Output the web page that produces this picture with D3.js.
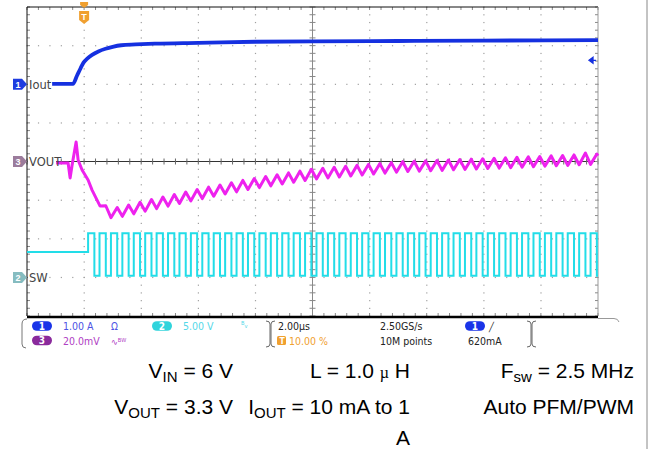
<!DOCTYPE html>
<html><head><meta charset="utf-8">
<script src="https://cdn.jsdelivr.net/npm/d3@7"></script>
<style>body{margin:0;background:#fff}svg{display:block}</style>
</head><body><svg id="c" width="649" height="449"></svg>
<script>
// ---------- data ----------
const timeDomain = [-2, 18];          // µs, 2.00 µs/div, trigger at 10 %
const divDomain = [-4, 4];            // vertical divisions
const ch1 = {scale: 1.0, offset: 2};  // Iout, A/div
const ch2 = {scale: 5.0, offset: -3}; // SW, V/div
const ch3 = {scale: 20.0, offset: 0}; // VOUT (AC), mV/div
const trigLevel = 0.62;               // A

// Ch1 Iout (A)
const iT = [-1.12, -0.39, -0.25, -0.12, -0.02, 0.12, 0.28, 0.5, 0.75, 1.0, 1.3, 1.8, 2.5, 4.0, 6.0, 8.0, 11.0, 14.0, 18.0];
const iA = [0.01, 0.01, 0.22, 0.42, 0.56, 0.67, 0.76, 0.85, 0.92, 0.97, 1.01, 1.03, 1.05, 1.07, 1.1, 1.11, 1.12, 1.13, 1.14];

// Ch3 VOUT deviation (mV)
const vT = [-0.98, -0.56, -0.49, -0.42, -0.28, -0.21, -0.07, 0.14, 0.28, 0.45, 0.56, 0.76,
  0.94, 1.16, 1.34, 1.56, 1.74, 1.96, 2.14, 2.36, 2.54, 2.76, 2.94, 3.16, 3.34, 3.56, 3.74, 3.96,
  4.14, 4.36, 4.54, 4.76, 4.94, 5.16, 5.34, 5.56, 5.74, 5.96, 6.14, 6.36, 6.54, 6.76, 6.94, 7.16,
  7.34, 7.56, 7.74, 7.96, 8.14, 8.36, 8.54, 8.76, 8.94, 9.16, 9.34, 9.56, 9.74, 9.96, 10.14, 10.36,
  10.54, 10.76, 10.94, 11.16, 11.34, 11.56, 11.74, 11.96, 12.14, 12.36, 12.54, 12.76, 12.94, 13.16,
  13.34, 13.56, 13.74, 13.96, 14.14, 14.36, 14.54, 14.76, 14.94, 15.16, 15.34, 15.56, 15.74, 15.96,
  16.14, 16.36, 16.54, 16.76, 16.94, 17.16, 17.34, 17.56, 17.74, 17.96, 18.0];
const vMV = [-0.8, -0.8, -8.5, -1.8, 10.1, 0.8, -4.4, -9.6, -14.8, -19.9, -23.1, -22.9,
  -29.1, -23.8, -28.4, -22.5, -27.1, -21.1, -25.7, -19.7, -24.4, -18.4, -23.1, -17.1, -21.7, -15.8, -20.4, -14.5,
  -19.2, -13.3, -18.0, -12.2, -16.8, -11.0, -15.7, -9.8, -14.5, -8.8, -13.5, -7.8, -12.6, -6.9, -11.6, -5.9,
  -10.7, -5.0, -9.8, -4.0, -9.0, -3.5, -8.5, -3.0, -8.0, -2.5, -7.5, -2.0, -7.0, -1.5, -6.5, -1.1,
  -6.0, -0.6, -5.5, -0.1, -5.2, 0.1, -5.0, 0.3, -4.8, 0.5, -4.6, 0.8, -4.3, 1.0,
  -4.1, 1.2, -3.9, 1.4, -3.6, 1.7, -3.4, 1.9, -3.2, 2.2, -2.9, 2.4, -2.7, 2.6,
  -2.4, 2.9, -2.2, 3.1, -2.0, 3.4, -1.7, 4.4, -1.5, 3.9, 3.0];

// Ch2 SW (V)
const swIdle = 3.3, swHigh = 5.7, swLow = 0.2;
const swRise = [0.14, 0.54, 0.94, 1.34, 1.74, 2.14, 2.54, 2.94, 3.34, 3.74, 4.14, 4.54, 4.94, 5.34, 5.74,
  6.14, 6.54, 6.94, 7.34, 7.74, 8.14, 8.54, 8.94, 9.34, 9.74, 10.14, 10.54, 10.94, 11.34, 11.74,
  12.14, 12.54, 12.94, 13.34, 13.74, 14.14, 14.54, 14.94, 15.34, 15.74, 16.14, 16.54, 16.94, 17.34, 17.74];
const swFall = [0.36, 0.76, 1.16, 1.56, 1.96, 2.36, 2.76, 3.16, 3.56, 3.96, 4.36, 4.76, 5.16, 5.56, 5.96,
  6.36, 6.76, 7.16, 7.56, 7.96, 8.36, 8.76, 9.16, 9.56, 9.96, 10.36, 10.76, 11.16, 11.56, 11.96,
  12.36, 12.76, 13.16, 13.56, 13.96, 14.36, 14.76, 15.16, 15.56, 15.96, 16.36, 16.76, 17.16, 17.56, 17.96];

// ---------- layout ----------
const L = 27, R = 598, T = 7, B = 316;
const svg = d3.select("#c");
const x = d3.scaleLinear().domain(timeDomain).range([L, R]);
const yDiv = d3.scaleLinear().domain(divDomain).range([B, T]);
const chScale = ch => d3.scaleLinear()
  .domain([(divDomain[0] - ch.offset) * ch.scale, (divDomain[1] - ch.offset) * ch.scale]).range([B, T]);
const y1 = chScale(ch1), y2 = chScale(ch2), y3 = chScale(ch3);

// grid
const g = svg.append("g");
const majorX = d3.range(1, 10).filter(i => i !== 5).map(i => timeDomain[0] + i * 2);
const majorY = d3.range(-3, 4).filter(j => j !== 0);
const minorX = d3.range(timeDomain[0], timeDomain[1] + 0.001, 0.4);
const minorY = d3.range(divDomain[0], divDomain[1] + 0.001, 0.2);
majorX.forEach(t => minorY.forEach(d => g.append("rect").attr("x", x(t) - 0.5).attr("y", yDiv(d) - 0.5)
  .attr("width", 1.2).attr("height", 1.2).attr("fill", "#a0a0a0")));
majorY.forEach(d => minorX.forEach(t => g.append("rect").attr("x", x(t) - 0.5).attr("y", yDiv(d) - 0.5)
  .attr("width", 1.2).attr("height", 1.2).attr("fill", "#a0a0a0")));
// center lines
g.append("line").attr("x1", x(8)).attr("x2", x(8)).attr("y1", T).attr("y2", B).attr("stroke", "#8a8a8a").attr("stroke-width", 1);
g.append("line").attr("x1", L).attr("x2", R).attr("y1", yDiv(0)).attr("y2", yDiv(0)).attr("stroke", "#333").attr("stroke-width", 1.2);
minorX.forEach(t => g.append("line").attr("x1", x(t)).attr("x2", x(t)).attr("y1", yDiv(0) - 3).attr("y2", yDiv(0) + 3).attr("stroke", "#666"));
minorY.forEach(d => g.append("line").attr("x1", x(8) - 3).attr("x2", x(8) + 3).attr("y1", yDiv(d)).attr("y2", yDiv(d)).attr("stroke", "#888"));
// edge ticks
minorX.forEach(t => {
  g.append("line").attr("x1", x(t)).attr("x2", x(t)).attr("y1", T).attr("y2", T + 3).attr("stroke", "#888");
  g.append("line").attr("x1", x(t)).attr("x2", x(t)).attr("y1", B).attr("y2", B - 3).attr("stroke", "#888");
});
minorY.forEach(d => {
  g.append("line").attr("x1", L).attr("x2", L + 3).attr("y1", yDiv(d)).attr("y2", yDiv(d)).attr("stroke", "#888");
  g.append("line").attr("x1", R).attr("x2", R - 3).attr("y1", yDiv(d)).attr("y2", yDiv(d)).attr("stroke", "#888");
});
// frame
g.append("line").attr("x1", L).attr("x2", R).attr("y1", T).attr("y2", T).attr("stroke", "#111");
g.append("line").attr("x1", L).attr("x2", L).attr("y1", T).attr("y2", B).attr("stroke", "#111");
g.append("line").attr("x1", R).attr("x2", R).attr("y1", T).attr("y2", B).attr("stroke", "#999");
g.append("line").attr("x1", L).attr("x2", R).attr("y1", B + 1).attr("y2", B + 1).attr("stroke", "#000").attr("stroke-width", 2.5);

// ---------- traces ----------
const line = d3.line().x(d => x(d[0])).y(d => d[1]);
// SW
const swPts = [[timeDomain[0], y2(swIdle)], [swRise[0], y2(swIdle)]];
swRise.forEach((r, k) => {
  swPts.push([r, y2(swHigh)], [swFall[k], y2(swHigh)], [swFall[k], y2(swLow)]);
  const next = k + 1 < swRise.length ? swRise[k + 1] : timeDomain[1];
  swPts.push([next, y2(swLow)]);
});
svg.append("path").attr("d", line(swPts)).attr("fill", "none").attr("stroke", "#22dde8").attr("stroke-width", 2);
// VOUT
svg.append("path").attr("d", line(vT.map((t, i) => [t, y3(vMV[i])]))).attr("fill", "none")
  .attr("stroke", "#ee22ee").attr("stroke-width", 3).attr("stroke-linejoin", "round");
// Iout
svg.append("path").attr("d", d3.line().x(d => x(d[0])).y(d => y1(d[1])).curve(d3.curveMonotoneX)(iT.map((t, i) => [t, iA[i]])))
  .attr("fill", "none").attr("stroke", "#1530e0").attr("stroke-width", 3.8);

// ---------- markers & labels ----------
function marker(yc, fill, num) {
  svg.append("path").attr("d", `M13,${yc - 5.5} H22 L27,${yc} L22,${yc + 5.5} H13 Z`).attr("fill", fill);
  svg.append("text").attr("x", 18).attr("y", yc + 3.5).attr("text-anchor", "middle").attr("fill", "#fff")
    .attr("font-family", "Liberation Sans, Arial").attr("font-size", 9).attr("font-weight", "bold").text(num);
}
const lab = (yc, t, w) => {
  svg.append("rect").attr("x", 28).attr("y", yc - 6).attr("width", w).attr("height", 12).attr("fill", "#fff");
  svg.append("text").attr("x", 29).attr("y", yc + 4.5).attr("fill", "#444")
    .attr("font-family", "DejaVu Sans, sans-serif").attr("font-size", 11.5).text(t);
};
lab(y1(0), "Iout", 24); lab(y3(0), "VOUT", 28); lab(y2(0), "SW", 18);
marker(y1(0), "#1e3ce0", "1");
marker(y3(0), "#9c7c9c", "3");
marker(y2(0), "#86bcc0", "2");

// trigger T
const tx = x(0);
svg.append("path").attr("d", `M${tx - 4},2 H${tx + 4} V5 L${tx},8 L${tx - 4},5 Z`).attr("fill", "#f0a030");
svg.append("path").attr("d", `M${tx - 5},11 H${tx + 5} V20 L${tx},24 L${tx - 5},20 Z`).attr("fill", "#f0a030");
svg.append("text").attr("x", tx).attr("y", 20).attr("text-anchor", "middle").attr("fill", "#fff")
  .attr("font-family", "Liberation Sans, Arial").attr("font-size", 9).attr("font-weight", "bold").text("T");
// trigger level arrow
const ty = y1(trigLevel);
svg.append("path").attr("d", `M589,${ty} L593,${ty - 3} L593,${ty + 3} Z M592,${ty} H596`).attr("fill", "#1530e0").attr("stroke", "#1530e0").attr("stroke-width", 1.3);

// ---------- info panel ----------
const P = svg.append("g").attr("font-family", "Liberation Sans Narrow, DejaVu Sans Condensed, sans-serif").attr("font-size", 10.5);
P.append("path").attr("d", "M598,318.5 H614 Q618,318.5 619,322").attr("fill", "none").attr("stroke", "#999");
P.append("path").attr("d", "M27,319 Q22,319 22,324 V344 Q22,348 26,348").attr("fill", "none").attr("stroke", "#777");
function bracket(bx) {
  P.append("path").attr("d", `M${bx - 4},321 Q${bx},321 ${bx},324 V344 Q${bx},347 ${bx - 4},347`).attr("fill", "none").attr("stroke", "#666");
  P.append("path").attr("d", `M${bx + 5},321 Q${bx + 1},321 ${bx + 1},324 V344 Q${bx + 1},347 ${bx + 5},347`).attr("fill", "none").attr("stroke", "#666");
}
bracket(270); bracket(531);
P.append("line").attr("x1", 647).attr("x2", 647).attr("y1", 0).attr("y2", 449).attr("stroke", "#888");
function pill(cx, cy, fill, num) {
  P.append("rect").attr("x", cx - 10).attr("y", cy - 4.8).attr("width", 20).attr("height", 9.6).attr("rx", 4.8).attr("fill", fill);
  P.append("text").attr("x", cx).attr("y", cy + 3.6).attr("text-anchor", "middle").attr("fill", "#fff").attr("font-weight", "bold").attr("font-size", 10).text(num);
}
pill(42, 326, "#1a34e8", "1");
pill(42, 340.5, "#8a2a9c", "3");
pill(162, 326, "#30d4dc", "2");
pill(475, 326, "#1a34e8", "1");
const tx2 = (xx, yy, col, s, fs) => P.append("text").attr("x", xx).attr("y", yy).attr("fill", col).attr("font-size", fs || 10.5).text(s);
tx2(63, 330, "#4c52e4", "1.00 A");
tx2(111, 330, "#4c52e4", "Ω", 10);
tx2(183, 330, "#55d8e8", "5.00 V");
tx2(241, 328, "#55d8e8", "ᴮᵥ", 9);
tx2(63, 344.5, "#b040c4", "20.0mV");
tx2(111, 344.5, "#b040c4", "∿ᴮᵂ", 9);
tx2(278, 330, "#222", "2.00µs");
P.append("rect").attr("x", 277).attr("y", 336).attr("width", 9).attr("height", 9).attr("rx", 1.5).attr("fill", "#f0a030");
tx2(279.5, 344, "#fff", "T", 8.5).attr("font-weight", "bold");
tx2(289, 344.5, "#f0a030", "10.00 %");
tx2(380, 330, "#222", "2.50GS/s");
tx2(380, 344.5, "#222", "10M points");
tx2(489, 330, "#222", "╱", 9);
tx2(468, 344.5, "#222", "620mA");

// ---------- conditions text ----------
const C = svg.append("g").attr("font-family", "Liberation Sans, Arial, sans-serif").attr("font-size", 21).attr("fill", "#000");
function cond(xr, yb, parts) {
  const t = C.append("text").attr("x", xr).attr("y", yb).attr("text-anchor", "end");
  parts.forEach(p => {
    const s = t.append("tspan").text(p[0]);
    if (p[1] === "sub") s.attr("font-size", 15).attr("dy", 4);
    if (p[1] === "up") s.attr("dy", -4);
    if (p[1] === "mu") s.attr("font-family", "Liberation Serif, serif").attr("font-size", 16);
  });
}
cond(233, 378, [["V"], ["IN", "sub"], [" = 6 V", "up"]]);
cond(410, 378, [["L = 1.0  "], ["µ", "mu"], [" H"]]);
cond(634, 378, [["F"], ["sw", "sub"], [" = 2.5 MHz", "up"]]);
cond(233, 414, [["V"], ["OUT", "sub"], [" = 3.3 V", "up"]]);
cond(410, 414, [["I"], ["OUT", "sub"], [" = 10 mA to 1", "up"]]);
cond(634, 414, [["Auto PFM/PWM"]]);
cond(410, 445, [["A"]]);
</script></body></html>
